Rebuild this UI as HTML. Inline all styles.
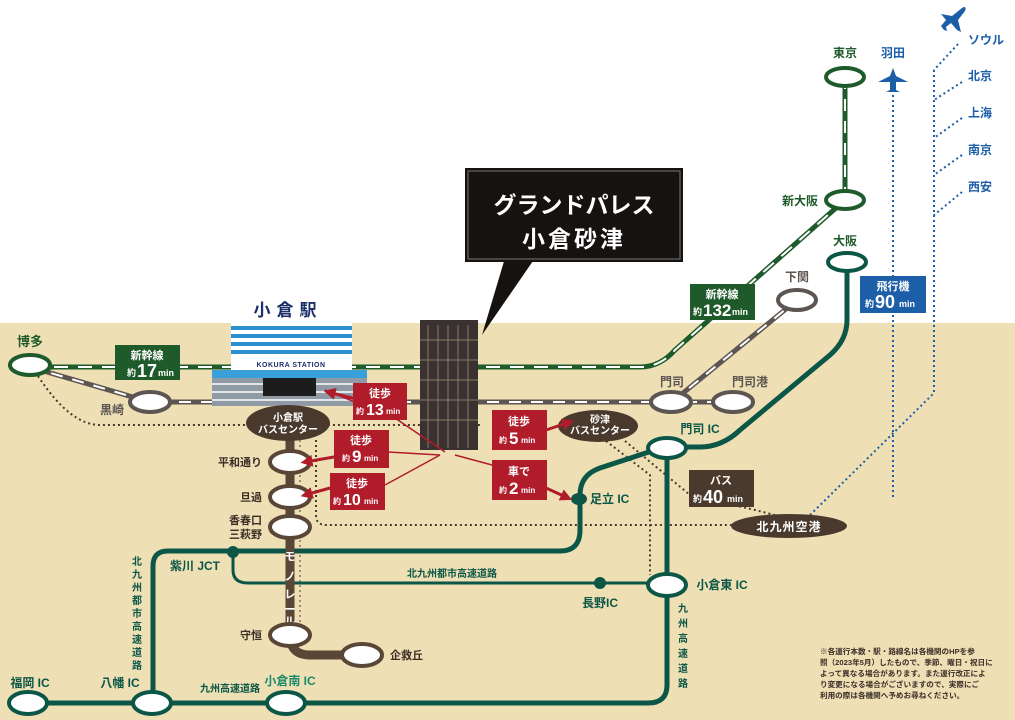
<!DOCTYPE html>
<html><head><meta charset="utf-8"><style>
html,body{margin:0;padding:0;background:#fff}
svg{display:block}
text{font-family:"Liberation Sans","Noto Sans CJK JP",sans-serif;font-weight:bold}
</style></head><body>
<svg width="1015" height="720" viewBox="0 0 1015 720" xmlns="http://www.w3.org/2000/svg">
<defs>
<marker id="ar" markerWidth="4" markerHeight="4" refX="2.5" refY="2" orient="auto" markerUnits="strokeWidth"><path d="M0,0 L4,2 L0,4 z" fill="#b01c2a"/></marker>
</defs>
<rect x="0" y="0" width="1015" height="323" fill="#fff"/>
<rect x="0" y="323" width="1015" height="397" fill="#eedfb5"/>

<g fill="none" stroke="#4a3a2e" stroke-width="2" stroke-dasharray="2 3">
<path d="M38,376 Q70,425 100,425 L480,425"/>
<path d="M316,440 L316,515 Q316,525 326,525 L735,525"/>
<path d="M606,441 L650,475 L650,575"/>
<path d="M625,441 L690,495 L755,510 L775,515"/>
</g>
<g fill="none" stroke="#1d5ea8" stroke-width="2" stroke-dasharray="2 3">
<path d="M893,95 L893,500"/>
<path d="M934,70 L934,393 L810,515"/>
<path d="M958,44 L934,70"/>
<path d="M962,82 L934,100"/>
<path d="M962,118 L934,138"/>
<path d="M962,155 L934,175"/>
<path d="M962,192 L934,215"/>
</g>

<g fill="none" stroke="#0b5646" stroke-width="5">
<path d="M847,262 L847,320 Q847,340 830,355 L740,430 Q722,447 700,447 L667,447"/>
<path d="M667,447 L667,685 Q667,703 648,703 L15,703"/>
<path d="M655,450 L600,468 Q580,475 580,495 L580,530 Q580,551 560,551 L168,551 Q153,551 153,566 L153,703"/>
</g>
<g fill="none" stroke="#0b5646" stroke-width="3">
<path d="M233,552 L233,570 Q233,583 248,583 L667,583"/>
</g>
<circle cx="233" cy="552" r="6" fill="#0b5646"/>
<circle cx="600" cy="583" r="6" fill="#0b5646"/>
<ellipse cx="579" cy="499" rx="8" ry="6" fill="#0b5646"/>

<g fill="none">
<path d="M30,367 L640,367 Q660,367 675,350 L845,200" stroke="#1f5a2a" stroke-width="5"/>
<path d="M30,367 L640,367 Q660,367 675,350 L845,200" stroke="#fff" stroke-width="2" stroke-dasharray="14 10"/>
<path d="M845,77 L845,200" stroke="#1f5a2a" stroke-width="5"/>
<path d="M845,77 L845,200" stroke="#fff" stroke-width="2" stroke-dasharray="12 10"/>
</g>
<g fill="none">
<path d="M30,367 L150,402 L733,402 M672,402 L797,300" stroke="#5c5552" stroke-width="5"/>
<path d="M30,367 L150,402 L733,402 M672,402 L797,300" stroke="#fff" stroke-width="2" stroke-dasharray="12 10"/>
</g>

<path d="M290,430 L290,635 Q290,655 310,655 L362,655" fill="none" stroke="#5a4636" stroke-width="9"/>
<path d="M300,440 L300,640" fill="none" stroke="#4a3a2e" stroke-width="1" stroke-dasharray="2 3"/>
<g fill="#fff" font-size="11">
<text x="290" y="560" text-anchor="middle">モ</text>
<text x="290" y="580" text-anchor="middle">ノ</text>
<text x="290" y="598" text-anchor="middle">レ</text>
<text x="290" y="613" text-anchor="middle">ー</text>
<text x="290" y="625" text-anchor="middle">ル</text>
</g>

<path d="M505,258 L535,258 L482,335 z" fill="#161210"/>
<rect x="465" y="168" width="218" height="94" fill="#161210"/>
<rect x="468" y="171" width="212" height="88" fill="none" stroke="#777" stroke-width="1"/>
<text x="574" y="213" fill="#fff" font-size="23" text-anchor="middle">グランドパレス</text>
<text x="574" y="247" fill="#fff" font-size="23" text-anchor="middle" letter-spacing="3">小倉砂津</text>

<rect x="420" y="320" width="58" height="130" fill="#3a3230"/>
<g stroke="#8a7a68" stroke-width="1">
<path d="M428,325 V448 M438,325 V448 M448,325 V448 M458,325 V448 M468,325 V448"/>
<path d="M420,340 H478 M420,360 H478 M420,380 H478 M420,400 H478 M420,420 H478"/>
</g>

<text x="288" y="316" fill="#1b2f6b" font-size="17" text-anchor="middle" letter-spacing="6">小倉駅</text>
<rect x="231" y="323" width="121" height="47" fill="#fff"/>
<g fill="#2c8fd0">
<rect x="231" y="326" width="121" height="4"/><rect x="231" y="334" width="121" height="4"/><rect x="231" y="342" width="121" height="4"/><rect x="231" y="350" width="121" height="4"/>
</g>
<text x="291" y="367" fill="#1b2f6b" font-size="7" text-anchor="middle" letter-spacing="0.5">KOKURA STATION</text>
<rect x="212" y="370" width="155" height="36" fill="#8f9aa4"/>
<rect x="212" y="370" width="155" height="8" fill="#3aa0dc"/>
<g stroke="#fff" stroke-width="1.5"><path d="M212,384 H367 M212,392 H367 M212,400 H367"/></g>
<rect x="263" y="378" width="53" height="18" fill="#1c1c1c"/>

<g stroke-width="4" fill="#fff">
<ellipse cx="30" cy="365" rx="20" ry="10" stroke="#1f5a2a"/>
<ellipse cx="845" cy="77" rx="19" ry="9" stroke="#1f5a2a"/>
<ellipse cx="845" cy="200" rx="19" ry="9" stroke="#1f5a2a"/>
<ellipse cx="847" cy="262" rx="19" ry="9" stroke="#0b5646"/>
<ellipse cx="150" cy="402" rx="20" ry="10" stroke="#5c5552"/>
<ellipse cx="671" cy="402" rx="20" ry="10" stroke="#5c5552"/>
<ellipse cx="733" cy="402" rx="20" ry="10" stroke="#5c5552"/>
<ellipse cx="797" cy="300" rx="19" ry="10" stroke="#5c5552"/>
<ellipse cx="667" cy="448" rx="19" ry="10" stroke="#0b5646"/>
<ellipse cx="667" cy="585" rx="19" ry="11" stroke="#0b5646"/>
<ellipse cx="28" cy="703" rx="19" ry="11" stroke="#0b5646"/>
<ellipse cx="152" cy="703" rx="19" ry="11" stroke="#0b5646"/>
<ellipse cx="286" cy="703" rx="19" ry="11" stroke="#0b5646"/>
<ellipse cx="290" cy="462" rx="20" ry="11" stroke="#5a4636"/>
<ellipse cx="290" cy="497" rx="20" ry="11" stroke="#5a4636"/>
<ellipse cx="290" cy="527" rx="20" ry="11" stroke="#5a4636"/>
<ellipse cx="290" cy="635" rx="20" ry="11" stroke="#5a4636"/>
<ellipse cx="362" cy="655" rx="20" ry="11" stroke="#5a4636"/>
</g>
<ellipse cx="288" cy="423" rx="42" ry="18" fill="#4a3a2e"/>
<text x="288" y="421" fill="#fff" font-size="10" text-anchor="middle">小倉駅</text>
<text x="288" y="433" fill="#fff" font-size="10" text-anchor="middle">バスセンター</text>
<ellipse cx="598" cy="426" rx="40" ry="16" fill="#4a3a2e"/>
<text x="600" y="423" fill="#fff" font-size="10" text-anchor="middle">砂津</text>
<text x="600" y="434" fill="#fff" font-size="10" text-anchor="middle">バスセンター</text>
<ellipse cx="789" cy="526" rx="58" ry="12" fill="#4a3a2e"/>
<text x="789" y="531" fill="#fff" font-size="12" text-anchor="middle" letter-spacing="1">北九州空港</text>

<g stroke="#b01c2a" fill="none">
<path d="M445,452 L395,418 M395,418 L325,390" stroke-width="1.5"/>
<path d="M440,455 L388,452" stroke-width="1.5"/>
<path d="M440,455 L385,485" stroke-width="1.5"/>
<path d="M455,455 L492,465" stroke-width="1.5"/>
<path d="M360,400 L328,392" stroke-width="3" marker-end="url(#ar)"/>
<path d="M334,457 L305,462" stroke-width="3" marker-end="url(#ar)"/>
<path d="M330,488 L305,495" stroke-width="3" marker-end="url(#ar)"/>
<path d="M546,430 L570,422" stroke-width="3" marker-end="url(#ar)"/>
<path d="M546,488 L568,498" stroke-width="3" marker-end="url(#ar)"/>
</g>

<g>
<rect x="115" y="345" width="65" height="35" fill="#1f5a2a"/>
<text x="147" y="359" fill="#fff" font-size="11" text-anchor="middle">新幹線</text>
<text x="127" y="376" fill="#fff" font-size="9">約</text><text x="137" y="377" fill="#fff" font-size="18">17</text><text x="158" y="376" fill="#fff" font-size="9">min</text>

<rect x="690" y="284" width="65" height="36" fill="#1f5a2a"/>
<text x="722" y="298" fill="#fff" font-size="11" text-anchor="middle">新幹線</text>
<text x="693" y="315" fill="#fff" font-size="9">約</text><text x="703" y="316" fill="#fff" font-size="17">132</text><text x="732" y="315" fill="#fff" font-size="9">min</text>

<rect x="860" y="276" width="66" height="37" fill="#1d5ea8"/>
<text x="893" y="290" fill="#fff" font-size="11" text-anchor="middle">飛行機</text>
<text x="865" y="307" fill="#fff" font-size="9">約</text><text x="875" y="308" fill="#fff" font-size="18">90</text><text x="899" y="307" fill="#fff" font-size="9">min</text>

<rect x="689" y="470" width="65" height="37" fill="#4a3a2e"/>
<text x="721" y="484" fill="#fff" font-size="11" text-anchor="middle">バス</text>
<text x="693" y="502" fill="#fff" font-size="9">約</text><text x="703" y="503" fill="#fff" font-size="18">40</text><text x="727" y="502" fill="#fff" font-size="9">min</text>

<rect x="353" y="383" width="54" height="37" fill="#b01c2a"/>
<text x="380" y="397" fill="#fff" font-size="11" text-anchor="middle">徒歩</text>
<text x="356" y="414" fill="#fff" font-size="8">約</text><text x="366" y="415" fill="#fff" font-size="16">13</text><text x="386" y="414" fill="#fff" font-size="8">min</text>

<rect x="334" y="430" width="55" height="38" fill="#b01c2a"/>
<text x="361" y="444" fill="#fff" font-size="11" text-anchor="middle">徒歩</text>
<text x="342" y="461" fill="#fff" font-size="8">約</text><text x="352" y="462" fill="#fff" font-size="17">9</text><text x="364" y="461" fill="#fff" font-size="8">min</text>

<rect x="330" y="473" width="55" height="37" fill="#b01c2a"/>
<text x="357" y="487" fill="#fff" font-size="11" text-anchor="middle">徒歩</text>
<text x="333" y="504" fill="#fff" font-size="8">約</text><text x="343" y="505" fill="#fff" font-size="16">10</text><text x="364" y="504" fill="#fff" font-size="8">min</text>

<rect x="492" y="410" width="55" height="40" fill="#b01c2a"/>
<text x="519" y="425" fill="#fff" font-size="11" text-anchor="middle">徒歩</text>
<text x="499" y="443" fill="#fff" font-size="8">約</text><text x="509" y="444" fill="#fff" font-size="17">5</text><text x="521" y="443" fill="#fff" font-size="8">min</text>

<rect x="492" y="460" width="55" height="40" fill="#b01c2a"/>
<text x="519" y="475" fill="#fff" font-size="11" text-anchor="middle">車で</text>
<text x="499" y="493" fill="#fff" font-size="8">約</text><text x="509" y="494" fill="#fff" font-size="17">2</text><text x="521" y="493" fill="#fff" font-size="8">min</text>
</g>

<g font-size="12" fill="#1f5a2a">
<text x="30" y="346" text-anchor="middle" font-size="13">博多</text>
<text x="845" y="57" text-anchor="middle">東京</text>
<text x="800" y="205" text-anchor="middle">新大阪</text>
<text x="845" y="245" text-anchor="middle">大阪</text>
</g>
<g font-size="12" fill="#5c5552">
<text x="112" y="414" text-anchor="middle">黒崎</text>
<text x="672" y="386" text-anchor="middle">門司</text>
<text x="750" y="386" text-anchor="middle">門司港</text>
<text x="797" y="281" text-anchor="middle">下関</text>
</g>
<g font-size="12" fill="#0b5646">
<text x="700" y="433" text-anchor="middle">門司 IC</text>
<text x="590" y="503">足立 IC</text>
<text x="722" y="589" text-anchor="middle">小倉東 IC</text>
<text x="600" y="607" text-anchor="middle">長野IC</text>
<text x="195" y="570" text-anchor="middle">紫川 JCT</text>
<text x="30" y="687" text-anchor="middle">福岡 IC</text>
<text x="120" y="687" text-anchor="middle">八幡 IC</text>
<text x="290" y="685" text-anchor="middle" fill="#1b8a6a">小倉南 IC</text>
<text x="230" y="692" text-anchor="middle" font-size="10">九州高速道路</text>
<text x="452" y="577" text-anchor="middle" font-size="10">北九州都市高速道路</text>
</g>
<g font-size="10" fill="#0b5646" text-anchor="middle">
<text x="137" y="565">北</text><text x="137" y="578">九</text><text x="137" y="591">州</text><text x="137" y="604">都</text><text x="137" y="617">市</text><text x="137" y="630">高</text><text x="137" y="643">速</text><text x="137" y="656">道</text><text x="137" y="669">路</text>
<text x="683" y="612">九</text><text x="683" y="627">州</text><text x="683" y="642">高</text><text x="683" y="657">速</text><text x="683" y="672">道</text><text x="683" y="687">路</text>
</g>
<g font-size="11" fill="#3a2e26">
<text x="262" y="466" text-anchor="end">平和通り</text>
<text x="262" y="501" text-anchor="end">旦過</text>
<text x="262" y="524" text-anchor="end">香春口</text>
<text x="262" y="538" text-anchor="end">三萩野</text>
<text x="262" y="639" text-anchor="end">守恒</text>
<text x="390" y="659">企救丘</text>
</g>
<g font-size="12" fill="#1d5ea8">
<text x="893" y="57" text-anchor="middle">羽田</text>
<text x="968" y="44">ソウル</text>
<text x="968" y="80">北京</text>
<text x="968" y="117">上海</text>
<text x="968" y="154">南京</text>
<text x="968" y="191">西安</text>
</g>
<g fill="#1d5ea8">
<path d="M893,68 L896,76 L908,82 L896,82 L896,90 L900,92 L886,92 L890,90 L890,82 L878,82 L890,76 z"/>
<path d="M941,14 L952,16 L962,8 Q967,5 965,11 L958,20 L961,32 L957,30 L951,23 L946,27 L947,31 L944,30 L941,26 L946,20 z"/>
</g>
<g font-size="7.6" fill="#3a2e26" font-weight="normal">
<text x="820" y="654">※各運行本数・駅・路線名は各機関のHPを参</text>
<text x="820" y="665">照（2023年5月）したもので、季節、曜日・祝日に</text>
<text x="820" y="676">よって異なる場合があります。また運行改正によ</text>
<text x="820" y="687">り変更になる場合がございますので、実際にご</text>
<text x="820" y="698">利用の際は各機関へ予めお尋ねください。</text>
</g>
</svg>
</body></html>
